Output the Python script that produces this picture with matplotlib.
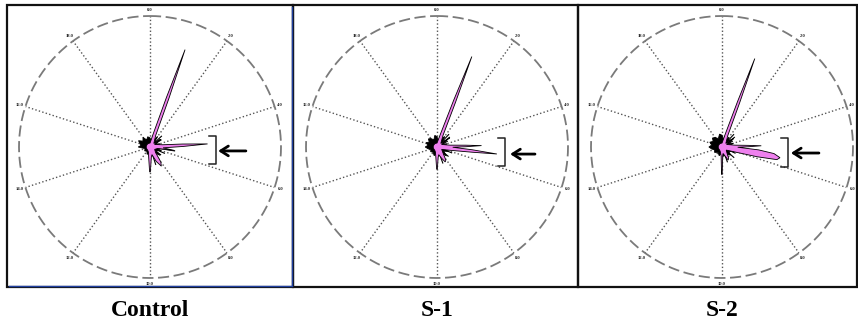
import numpy as np
import matplotlib
matplotlib.use("Agg")
import matplotlib.pyplot as plt
from matplotlib.patches import Rectangle
from matplotlib.lines import Line2D

plt.rcParams['lines.scale_dashes'] = False

# ---------------- data (angles in clock units 0-20, radius as fraction of outer circle) ----
panel_names = ["Control", "S-1", "S-2"]
tick_values = [0, 2, 4, 6, 8, 10, 12, 14, 16, 18]
tick_labels = ["0.0", "2.0", "4.0", "6.0", "8.0", "10.0", "12.0", "14.0", "16.0", "18.0"]

# pink rose outlines
control_rose_u = [0.0, 0.3, 0.75, 1.02, 1.10, 1.18, 1.45, 2.6, 2.9, 3.0, 3.1, 3.4, 4.45, 4.71, 4.83, 4.95, 5.2,
                  5.45, 5.6, 6.5, 7.5, 8.0, 8.3, 8.7, 9.2, 9.6, 9.95, 10.05, 10.4, 11.0, 12.0, 14.0, 16.0, 18.0, 19.5]
control_rose_r = [0.03, 0.04, 0.10, 0.40, 0.79, 0.40, 0.10, 0.04, 0.06, 0.10, 0.06, 0.04, 0.10, 0.25, 0.44, 0.25, 0.10,
                  0.19, 0.06, 0.04, 0.06, 0.14, 0.17, 0.12, 0.06, 0.08, 0.19, 0.19, 0.08, 0.04, 0.03, 0.03, 0.03, 0.03, 0.03]

s1_rose_u = [0.0, 0.3, 0.82, 1.09, 1.17, 1.25, 1.52, 2.6, 2.9, 3.0, 3.1, 3.4, 4.55, 4.80, 4.90, 4.97, 5.05,
             5.25, 5.37, 5.47, 5.8, 6.5, 7.6, 8.1, 8.4, 8.8, 9.3, 9.65, 9.95, 10.05, 10.35, 11.0, 12.0, 14.0, 16.0, 18.0, 19.5]
s1_rose_r = [0.03, 0.04, 0.10, 0.38, 0.74, 0.37, 0.10, 0.04, 0.07, 0.12, 0.07, 0.04, 0.10, 0.22, 0.34, 0.22, 0.12,
             0.27, 0.46, 0.27, 0.10, 0.04, 0.07, 0.12, 0.13, 0.09, 0.06, 0.08, 0.17, 0.17, 0.08, 0.04, 0.03, 0.03, 0.03, 0.03, 0.03]

s2_rose_u = [0.0, 0.3, 0.78, 1.05, 1.13, 1.21, 1.48, 2.6, 2.9, 3.0, 3.1, 3.4, 4.55, 4.80, 4.90, 4.97, 5.05,
             5.25, 5.40, 5.58, 5.72, 5.86, 6.2, 7.0, 7.8, 8.3, 8.6, 9.0, 9.5, 9.75, 9.98, 10.05, 10.3, 11.0, 12.0, 14.0, 16.0, 18.0, 19.5]
s2_rose_r = [0.03, 0.04, 0.10, 0.37, 0.72, 0.36, 0.10, 0.04, 0.07, 0.11, 0.07, 0.04, 0.10, 0.20, 0.30, 0.20, 0.12,
             0.28, 0.40, 0.45, 0.43, 0.28, 0.10, 0.04, 0.06, 0.10, 0.11, 0.07, 0.05, 0.07, 0.21, 0.21, 0.07, 0.04, 0.03, 0.03, 0.03, 0.03, 0.03]

# black jagged core
control_core_u = [0.0, 0.5, 1.0, 1.5, 2.0, 2.4, 3.0, 3.5, 4.0, 4.5, 5.0, 5.5, 6.0, 6.6, 7.2, 7.8, 8.5, 9.2,
                  9.8, 10.5, 11.2, 12.0, 13.0, 14.0, 14.6, 15.0, 15.5, 16.0, 16.6, 17.2, 18.0, 18.6, 19.3]
control_core_r = [0.07, 0.05, 0.08, 0.05, 0.10, 0.05, 0.09, 0.05, 0.08, 0.06, 0.07, 0.05, 0.09, 0.05, 0.10, 0.06,
                  0.08, 0.05, 0.07, 0.05, 0.06, 0.04, 0.05, 0.04, 0.06, 0.09, 0.07, 0.08, 0.10, 0.07, 0.09, 0.06, 0.08]
s1_core_u = [0.0, 0.5, 1.0, 1.5, 2.0, 2.5, 3.0, 3.5, 4.0, 4.5, 5.0, 5.6, 6.2, 6.8, 7.4, 8.0, 8.6, 9.2,
             9.8, 10.4, 11.0, 12.0, 13.0, 13.8, 14.4, 15.0, 15.6, 16.2, 16.8, 17.4, 18.0, 18.7, 19.4]
s1_core_r = [0.08, 0.05, 0.09, 0.06, 0.10, 0.06, 0.09, 0.05, 0.08, 0.06, 0.08, 0.05, 0.09, 0.06, 0.10, 0.06,
             0.09, 0.05, 0.08, 0.05, 0.07, 0.05, 0.06, 0.05, 0.07, 0.09, 0.07, 0.09, 0.07, 0.09, 0.08, 0.06, 0.09]
s2_core_u = [0.0, 0.5, 1.0, 1.5, 2.0, 2.5, 3.0, 3.5, 4.0, 4.5, 5.0, 5.6, 6.2, 6.8, 7.4, 8.0, 8.6, 9.2,
             9.8, 10.4, 11.0, 12.0, 13.0, 13.8, 14.4, 15.0, 15.6, 16.2, 16.8, 17.4, 18.0, 18.7, 19.4]
s2_core_r = [0.09, 0.06, 0.10, 0.06, 0.09, 0.07, 0.10, 0.06, 0.09, 0.06, 0.08, 0.06, 0.10, 0.06, 0.09, 0.07,
             0.10, 0.06, 0.08, 0.05, 0.07, 0.05, 0.07, 0.06, 0.08, 0.10, 0.08, 0.10, 0.08, 0.10, 0.09, 0.07, 0.10]

# thin black hairs radiating from the core
control_hair_u = [2.6, 3.2, 5.5, 6.3, 7.0, 9.0]
control_hair_r = [0.12, 0.10, 0.19, 0.12, 0.10, 0.14]
s1_hair_u = [2.4, 2.9, 3.4, 6.2, 7.2, 8.9]
s1_hair_r = [0.13, 0.12, 0.09, 0.12, 0.11, 0.13]
s2_hair_u = [2.4, 2.9, 3.4, 6.4, 7.3, 8.9]
s2_hair_r = [0.13, 0.12, 0.09, 0.11, 0.12, 0.12]

roses = [(control_rose_u, control_rose_r), (s1_rose_u, s1_rose_r), (s2_rose_u, s2_rose_r)]
cores = [(control_core_u, control_core_r), (s1_core_u, s1_core_r), (s2_core_u, s2_core_r)]
hairs = [(control_hair_u, control_hair_r), (s1_hair_u, s1_hair_r), (s2_hair_u, s2_hair_r)]

# ---------------- layout ----------------
W, H = 858, 329
fig = plt.figure(figsize=(W / 100, H / 100), dpi=100)
fig.patch.set_facecolor("white")

def fx(px):
    return px / W

def fy(py):
    return 1 - py / H

centers_x = [150, 437, 722]
center_y = 147
R = 131
panel_boxes = [(7, 5, 293, 287), (293, 5, 578, 287), (578, 5, 857, 287)]
# bracket/arrow positions (axes fraction): bracket x, tick x0, y top, y bottom, arrow start x, arrow end x, arrow y
marks = [(0.752, 0.725, 0.542, 0.435, 0.866, 0.760, 0.485),
         (0.760, 0.732, 0.534, 0.427, 0.874, 0.779, 0.473),
         (0.753, 0.725, 0.535, 0.425, 0.870, 0.763, 0.477)]

pink = "#EE80EE"

def u2t(u):
    return np.asarray(u, dtype=float) / 20.0 * 2 * np.pi

# panel borders
for i, (x0, y0, x1, y1) in enumerate(panel_boxes):
    fig.add_artist(Rectangle((fx(x0), fy(y1)), fx(x1 - x0), (y1 - y0) / H,
                             transform=fig.transFigure, fill=False, edgecolor="#111111", linewidth=1.6))
fig.add_artist(Line2D([fx(292), fx(292)], [fy(7), fy(285)], transform=fig.transFigure, color="#2040a0", lw=1.0))
fig.add_artist(Line2D([fx(9), fx(292)], [fy(285.5), fy(285.5)], transform=fig.transFigure, color="#2040a0", lw=1.0))

for i in range(3):
    cx = centers_x[i]
    ax = fig.add_axes([fx(cx - R), fy(center_y + R), 2 * R / W, 2 * R / H], projection="polar")
    ax.set_theta_zero_location("N")
    ax.set_theta_direction(-1)
    ax.set_ylim(0, 1)
    ax.spines["polar"].set_visible(False)
    ax.set_facecolor("none")
    ax.set_yticks([])
    ax.set_xticks(u2t(tick_values))
    ax.set_xticklabels([])
    ax.tick_params(axis="x", length=0)
    ax.xaxis.grid(True, color="#555555", linestyle=(0, (1.0, 1.6)), linewidth=1.0)
    ax.yaxis.grid(False)
    for tv, tl in zip(tick_values, tick_labels):
        ax.text(u2t(tv), 1.045, tl, ha="center", va="center", fontsize=3.3, fontweight="bold",
                family="Liberation Serif", color="#222222", clip_on=False)
    # dashed outer circle
    th = np.linspace(0, 2 * np.pi, 721)
    ax.plot(th, np.ones_like(th), color="#7a7a7a", lw=1.3, linestyle=(0, (8.0, 3.3)), zorder=2, clip_on=False)

    # black core
    cu, cr = cores[i]
    ax.fill(u2t(cu), cr, facecolor="black", edgecolor="black", lw=0.6, zorder=3)
    # hairs
    hu, hr = hairs[i]
    for u, r in zip(hu, hr):
        ax.plot([u2t(u), u2t(u)], [0, r], color="black", lw=0.8, zorder=3)
    # pink rose
    ru, rr = roses[i]
    ax.fill(u2t(ru), rr, facecolor=pink, edgecolor="black", lw=0.6, zorder=4)

    # bracket and arrow
    bx, tx0, yt, yb, ax0, ax1, ay = marks[i]
    ax.plot([tx0, bx, bx, tx0], [yt, yt, yb, yb], transform=ax.transAxes, color="#222222", lw=1.1,
            clip_on=False, zorder=5)
    ax.annotate("", xy=(ax1, ay), xytext=(ax0, ay), xycoords="axes fraction", textcoords="axes fraction",
                arrowprops=dict(arrowstyle="->,head_length=0.55,head_width=0.35", color="black", lw=2.0,
                                shrinkA=0, shrinkB=0), annotation_clip=False)

    fig.text(fx(cx), fy(310), panel_names[i], ha="center", va="center", fontsize=17,
             fontweight="bold", family="Liberation Serif")

fig.savefig("out.png", dpi=100, facecolor="white")
